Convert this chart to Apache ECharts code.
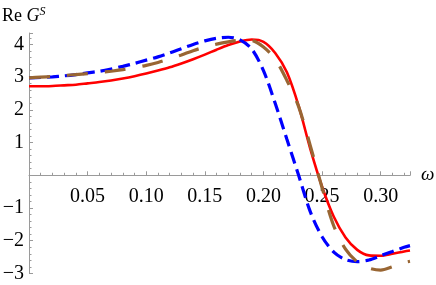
<!DOCTYPE html>
<html>
<head>
<meta charset="utf-8">
<script src="https://cdn.jsdelivr.net/npm/echarts@6/dist/echarts.min.js"></script>
<style>
html,body{margin:0;padding:0;background:#fff;}
#chart{width:436px;height:285px;}
</style>
</head>
<body>
<div id="chart"></div>
<script>
// ---- data ----
var omega = [0, 0.01, 0.02, 0.03, 0.04, 0.05, 0.06, 0.07, 0.08, 0.09, 0.10, 0.11, 0.12, 0.13, 0.14, 0.15, 0.16, 0.17, 0.18, 0.19, 0.20, 0.21, 0.22, 0.23, 0.24, 0.25, 0.26, 0.27, 0.28, 0.29, 0.30, 0.31, 0.32, 0.325];

var red   = [2.72, 2.72, 2.73, 2.75, 2.77, 2.81, 2.85, 2.90, 2.96, 3.03, 3.11, 3.20, 3.30, 3.42, 3.55, 3.69, 3.84, 3.98, 4.09, 4.15, 4.08, 3.74, 3.15, 2.12, 0.80, -0.35, -1.27, -1.90, -2.28, -2.45, -2.46, -2.40, -2.33, -2.30];

var blue  = [2.98, 2.99, 3.01, 3.04, 3.08, 3.13, 3.18, 3.25, 3.33, 3.42, 3.52, 3.62, 3.74, 3.87, 4.00, 4.11, 4.19, 4.22, 4.14, 3.86, 3.20, 2.20, 1.10, 0.00, -1.12, -1.88, -2.35, -2.58, -2.64, -2.59, -2.46, -2.33, -2.20, -2.15];

var brown = [2.98, 3.00, 3.02, 3.05, 3.08, 3.11, 3.14, 3.18, 3.23, 3.29, 3.36, 3.45, 3.56, 3.68, 3.81, 3.92, 4.01, 4.08, 4.13, 4.12, 3.92, 3.55, 2.90, 2.10, 0.90, -0.38, -1.55, -2.26, -2.65, -2.84, -2.90, -2.80, -2.67, -2.63];

var xTickValues = [0.05, 0.10, 0.15, 0.20, 0.25, 0.30];
var xTickLabels = ['0.05', '0.10', '0.15', '0.20', '0.25', '0.30'];
var yTickValues = [-3, -2, -1, 1, 2, 3, 4];
var yTickLabels = ['\u22123', '\u22122', '\u22121', '1', '2', '3', '4'];

function pairs(xs, ys) { return xs.map(function (x, i) { return [x, ys[i]]; }); }
function lookup(vals, labels, v) {
  for (var i = 0; i < vals.length; i++) { if (Math.abs(vals[i] - v) < 1e-6) return labels[i]; }
  return '';
}

var FONT = '"Liberation Serif", "DejaVu Serif", serif';
var AXIS_COLOR = '#9a9a9a';
var Y_MIN = -3, Y_MAX = 4.35;
var GRID_H = 240.4;
// x axis sits at y = 0: shift it up from the grid bottom
var X_OFFSET = -GRID_H * (0 - Y_MIN) / (Y_MAX - Y_MIN);

var chart = echarts.init(document.getElementById('chart'), null, {renderer: 'canvas'});
chart.setOption({
  animation: false,
  backgroundColor: '#ffffff',
  grid: {left: 29, top: 33, width: 381, height: GRID_H, containLabel: false, outerBoundsMode: 'none'},
  title: {
    text: '{a|Re }{b|G}{c|S}',
    left: 2, top: 6, padding: 0,
    textStyle: {
      fontWeight: 'normal',
      rich: {
        a: {fontFamily: FONT, fontSize: 18, fontWeight: 'normal', color: '#000'},
        b: {fontFamily: FONT, fontSize: 18, fontWeight: 'normal', fontStyle: 'italic', color: '#000'},
        c: {fontFamily: FONT, fontSize: 12, fontWeight: 'normal', fontStyle: 'italic', color: '#000', padding: [0, 0, 9, 0]}
      }
    }
  },
  xAxis: [{
    type: 'value', min: 0, max: 0.325, interval: 0.05, position: 'bottom', offset: X_OFFSET,
    axisLine: {onZero: false, lineStyle: {color: AXIS_COLOR, width: 1}},
    axisTick: {inside: true, length: 4, lineStyle: {color: AXIS_COLOR}},
    splitLine: {show: false},
    axisLabel: {
      margin: 11, color: '#000', fontFamily: FONT, fontSize: 20,
      formatter: function (v) { return lookup(xTickValues, xTickLabels, v); }
    },
    name: '\u03c9', nameLocation: 'end', nameGap: 11,
    nameTextStyle: {fontFamily: FONT, fontSize: 19, fontStyle: 'italic', color: '#000', padding: [4, 0, 0, 0]}
  }, {
    type: 'value', min: 0, max: 0.325, interval: 0.01, position: 'bottom', offset: X_OFFSET,
    axisLine: {show: false, onZero: false},
    axisTick: {inside: true, length: 2.5, lineStyle: {color: AXIS_COLOR}},
    splitLine: {show: false},
    axisLabel: {show: false}
  }],
  yAxis: [{
    type: 'value', min: Y_MIN, max: Y_MAX, interval: 1, position: 'left',
    axisLine: {onZero: false, lineStyle: {color: AXIS_COLOR, width: 1}},
    axisTick: {inside: true, length: 4, lineStyle: {color: AXIS_COLOR}},
    splitLine: {show: false},
    axisLabel: {
      margin: 5, color: '#000', fontFamily: FONT, fontSize: 20,
      formatter: function (v) { return lookup(yTickValues, yTickLabels, v); }
    }
  }, {
    type: 'value', min: Y_MIN, max: Y_MAX, interval: 0.2, position: 'left',
    axisLine: {show: false, onZero: false},
    axisTick: {inside: true, length: 2.5, lineStyle: {color: AXIS_COLOR}},
    splitLine: {show: false},
    axisLabel: {show: false}
  }],
  series: [{
    type: 'line', xAxisIndex: 0, yAxisIndex: 0, data: pairs(omega, red),
    smooth: 0.3, symbol: 'none',
    lineStyle: {color: '#ff0000', width: 2.6, type: 'solid'}
  }, {
    type: 'line', xAxisIndex: 0, yAxisIndex: 0, data: pairs(omega, blue),
    smooth: 0.3, symbol: 'none',
    lineStyle: {color: '#0000ff', width: 3.2, type: [12, 6]}
  }, {
    type: 'line', xAxisIndex: 0, yAxisIndex: 0, data: pairs(omega, brown),
    smooth: 0.3, symbol: 'none',
    lineStyle: {color: '#996633', width: 3.2, type: [21, 17]}
  }]
});
</script>
</body>
</html>
